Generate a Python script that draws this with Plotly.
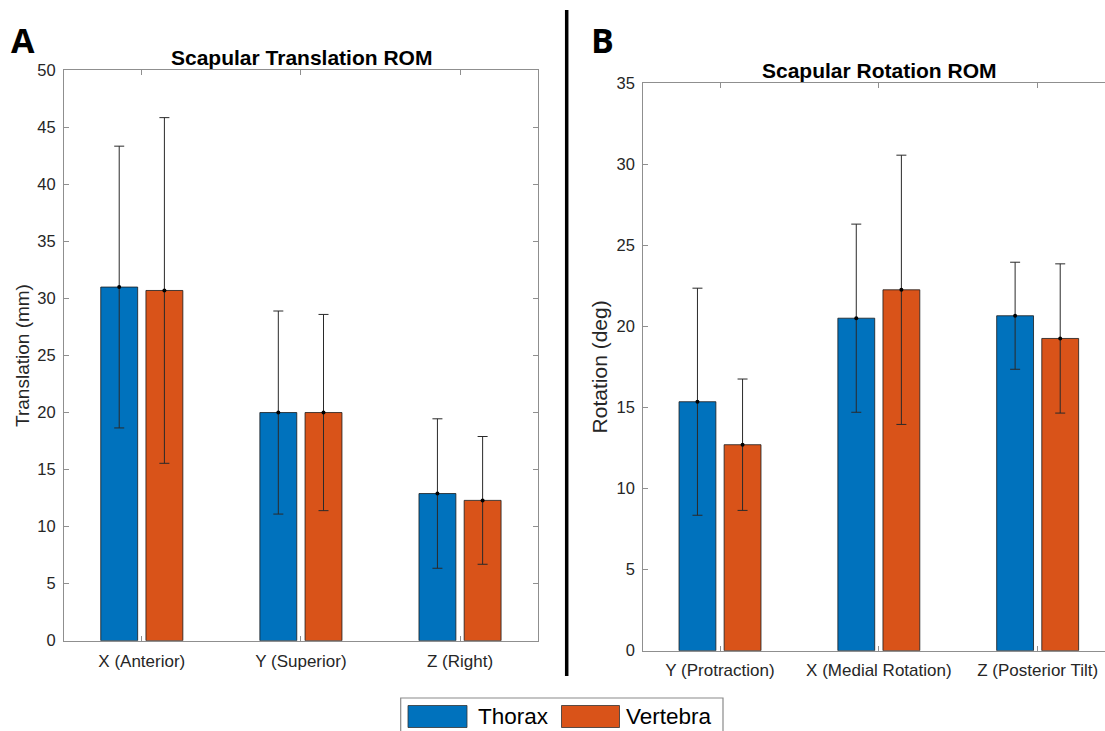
import plotly.graph_objects as go

W, H = 1105, 731

# ---- data ----
trans_categories = ["X (Anterior)", "Y (Superior)", "Z (Right)"]
trans_thorax = [31.0, 20.0, 12.9]
trans_thorax_sd = [12.35, 8.9, 6.55]
trans_vertebra = [30.7, 20.0, 12.3]
trans_vertebra_sd = [15.15, 8.6, 5.6]

rot_categories = ["Y (Protraction)", "X (Medial Rotation)", "Z (Posterior Tilt)"]
rot_thorax = [15.35, 20.5, 20.65]
rot_thorax_sd = [7.0, 5.8, 3.3]
rot_vertebra = [12.7, 22.25, 19.25]
rot_vertebra_sd = [4.05, 8.3, 4.6]

trans_yticks = [0, 5, 10, 15, 20, 25, 30, 35, 40, 45, 50]
rot_yticks = [0, 5, 10, 15, 20, 25, 30, 35]

series_names = ["Thorax", "Vertebra"]
BLUE = "#0072BD"
ORANGE = "#D95319"
colors = [BLUE, ORANGE]

OFFSET = 0.142
BARW = 0.232
FONT = "Liberation Sans, Arial, sans-serif"
AXC = "#8f8f8f"
TXC = "#262626"

fig = go.Figure()


def add_panel(cats, vals_list, sd_list, xa, ya):
    idx = list(range(len(cats)))
    for k, (vals, sds) in enumerate(zip(vals_list, sd_list)):
        off = -OFFSET if k == 0 else OFFSET
        xs = [i + off for i in idx]
        fig.add_trace(go.Bar(
            x=xs, y=vals, width=BARW, name=series_names[k],
            marker=dict(color=colors[k], line=dict(color="#1a1a1a", width=0.8)),
            xaxis=xa, yaxis=ya, showlegend=False, hoverinfo="skip"))
        fig.add_trace(go.Scatter(
            x=xs, y=vals, mode="markers",
            marker=dict(color="black", size=4),
            error_y=dict(type="data", array=sds, visible=True,
                         color="#2a2a2a", thickness=1, width=5),
            xaxis=xa, yaxis=ya, showlegend=False, hoverinfo="skip"))


add_panel(trans_categories, [trans_thorax, trans_vertebra],
          [trans_thorax_sd, trans_vertebra_sd], "x", "y")
add_panel(rot_categories, [rot_thorax, rot_vertebra],
          [rot_thorax_sd, rot_vertebra_sd], "x2", "y2")


def px(x):
    return x / W


def py(y):
    return 1 - y / H


common_axis = dict(showgrid=False, zeroline=False, showline=True, automargin=False,
                   linecolor=AXC, linewidth=1.2, ticks="inside", ticklen=5,
                   tickcolor=AXC)
xfont = dict(family=FONT, size=17, color=TXC)
yfont = dict(family=FONT, size=16.5, color=TXC)

fig.update_layout(
    width=W, height=H, margin=dict(l=0, r=0, t=0, b=0, pad=0),
    template="plotly_white",
    paper_bgcolor="white", plot_bgcolor="white", showlegend=False,
    xaxis=dict(domain=[px(64), px(538.3)], range=[-0.489, 2.492],
               tickvals=[0, 1, 2], ticktext=trans_categories, mirror="ticks",
               anchor="y", ticklabelstandoff=5, tickfont=xfont, **common_axis),
    yaxis=dict(domain=[py(640.7), py(70.3)], range=[0, 50],
               tickvals=trans_yticks, mirror="ticks", anchor="x",
               title=dict(text="Translation (mm)", standoff=2,
                          font=dict(family=FONT, size=19, color=TXC)),
               ticklabelstandoff=4, tickfont=yfont, **common_axis),
    xaxis2=dict(domain=[px(643.3), 1.0], range=[-0.483, 2.424],
                tickvals=[0, 1, 2], ticktext=rot_categories, mirror="ticks",
                anchor="y2", ticklabelstandoff=4, tickfont=xfont, **common_axis),
    yaxis2=dict(domain=[py(650.7), py(83)], range=[0, 35],
                tickvals=rot_yticks, mirror=False, anchor="x2",
                title=dict(text="Rotation (deg)", standoff=3,
                           font=dict(family=FONT, size=21, color=TXC)),
                ticklabelstandoff=4, tickfont=yfont, **common_axis),
)

annotations = [
    dict(text="<b>Scapular Translation ROM</b>", x=px(301), y=py(58),
         font=dict(family=FONT, size=21, color="black")),
    dict(text="<b>Scapular Rotation ROM</b>", x=px(880), y=py(70),
         font=dict(family=FONT, size=21, color="black")),
    dict(text="<b>A</b>", x=px(22.5), y=py(40),
         font=dict(family="Open Sans, sans-serif", size=34, color="black")),
    dict(text="<b>B</b>", x=px(602), y=py(40),
         font=dict(family="Open Sans, sans-serif", size=34, color="black")),
    dict(text=series_names[0], x=px(476), y=py(716), xanchor="left",
         font=dict(family=FONT, size=22.5, color="black")),
    dict(text=series_names[1], x=px(624), y=py(716), xanchor="left",
         font=dict(family=FONT, size=22.5, color="black")),
]
for a in annotations:
    a.setdefault("xanchor", "center")
    a.update(xref="paper", yref="paper", yanchor="middle", showarrow=False)
fig.update_layout(annotations=annotations)

shapes = [
    # separator line
    dict(type="line", x0=px(566.7), x1=px(566.7), y0=py(10), y1=py(676),
         line=dict(color="black", width=3.5)),
    # legend box
    dict(type="rect", x0=px(400.7), x1=px(723), y0=py(698), y1=py(745),
         line=dict(color="#8a8a8a", width=1.2), fillcolor="white"),
    dict(type="rect", x0=px(408), x1=px(467), y0=py(705.5), y1=py(727.5),
         line=dict(color="#333", width=0.8), fillcolor=BLUE),
    dict(type="rect", x0=px(561.5), x1=px(619.5), y0=py(705.5), y1=py(727.5),
         line=dict(color="#333", width=0.8), fillcolor=ORANGE),
]
for s in shapes:
    s.update(xref="paper", yref="paper")
fig.update_layout(shapes=shapes)

fig.write_html("out.html")
